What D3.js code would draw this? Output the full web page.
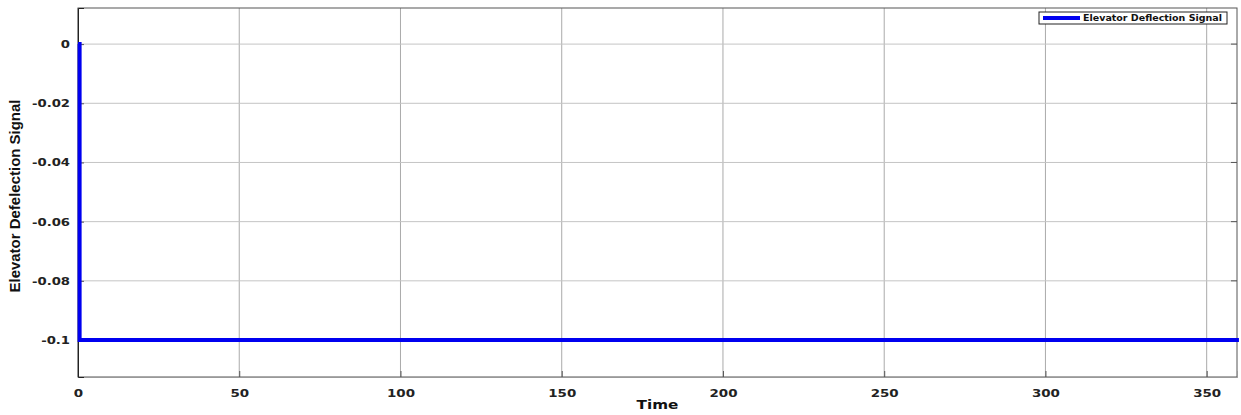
<!DOCTYPE html>
<html>
<head>
<meta charset="utf-8">
<script src="https://cdn.jsdelivr.net/npm/d3@7"></script>
<style>
  html, body { margin: 0; padding: 0; background: #fff; }
  svg { display: block; }
  .tick text { font-family: "DejaVu Sans", Verdana, sans-serif; font-weight: bold; fill: #222; }
</style>
</head>
<body>
<svg id="chart" width="1241" height="415"></svg>
<script>
// Step input: elevator deflection drops from 0 to -0.1 right after start
const time = [0, 0.5, 0.5, 360];
const deflection = [0, 0, -0.1, -0.1];
const xTicks = [0, 50, 100, 150, 200, 250, 300, 350];
const yTicks = [0, -0.02, -0.04, -0.06, -0.08, -0.1];
const yTickLabels = ["0", "-0.02", "-0.04", "-0.06", "-0.08", "-0.1"];
const seriesName = "Elevator Deflection Signal";
const xLabel = "Time";
const yLabel = "Elevator Defelection Signal";

const W = 1241, H = 415;
const m = { left: 78, right: 4, top: 8, bottom: 38 };
const svg = d3.select("#chart");

const x = d3.scaleLinear().domain([0, 359.4]).range([m.left, W - m.right]);
const y = d3.scaleLinear().domain([-0.1125, 0.0122]).range([H - m.bottom, m.top]);

const x0 = m.left, x1 = W - m.right, y0 = H - m.bottom, y1 = m.top;

// widen text horizontally about its anchor point (extended bold look)
function widen(sel, s, ax) {
  sel.attr("transform", `translate(${ax},0) scale(${s},1) translate(${-ax},0)`);
}

// grid
const grid = svg.append("g");
grid.selectAll("line.vg").data(xTicks).join("line")
  .attr("x1", d => x(d)).attr("x2", d => x(d))
  .attr("y1", y1).attr("y2", y0)
  .attr("stroke", "#aaa").attr("stroke-width", 1);
grid.selectAll("line.hg").data(yTicks).join("line")
  .attr("x1", x0).attr("x2", x1)
  .attr("y1", d => y(d)).attr("y2", d => y(d))
  .attr("stroke", "#c4c4c4").attr("stroke-width", 1);

// box
svg.append("rect").attr("x", x0).attr("y", y1)
  .attr("width", x1 - x0).attr("height", y0 - y1)
  .attr("fill", "none").attr("stroke", "#555").attr("stroke-width", 1);

// axes
const xPad = 12, yPad = 8;
const xAxis = d3.axisBottom(x).tickValues(xTicks).tickSize(-6).tickPadding(xPad);
svg.append("g").attr("transform", `translate(0,${y0})`).call(xAxis)
  .call(g => g.select(".domain").attr("stroke", "#999"))
  .call(g => g.selectAll(".tick line").attr("stroke", "#555"))
  .call(g => g.selectAll(".tick text").attr("font-size", 11).call(widen, 1.22, 0));

const yAxis = d3.axisLeft(y).tickValues(yTicks)
  .tickFormat((d, i) => yTickLabels[i]).tickSize(-6).tickPadding(yPad);
svg.append("g").attr("transform", `translate(${x0},0)`).call(yAxis)
  .call(g => g.select(".domain").attr("stroke", "#222"))
  .call(g => g.selectAll(".tick line").attr("stroke", "#555"))
  .call(g => g.selectAll(".tick text").attr("font-size", 11).call(widen, 1.2, -yPad));

// right-side inner ticks
svg.append("g").selectAll("line").data(yTicks).join("line")
  .attr("x1", x1 - 6).attr("x2", x1)
  .attr("y1", d => y(d)).attr("y2", d => y(d))
  .attr("stroke", "#555");

// signal
const pts = time.map((t, i) => [t, deflection[i]]);
svg.append("path").datum(pts)
  .attr("d", d3.line().x(d => x(d[0])).y(d => y(d[1])))
  .attr("fill", "none").attr("stroke", "#0000f0").attr("stroke-width", 4)
  .attr("stroke-linejoin", "miter");

// axis labels
const xc = (x0 + x1) / 2;
svg.append("text").attr("x", xc).attr("y", 409)
  .attr("text-anchor", "middle")
  .attr("font-family", "DejaVu Sans, sans-serif").attr("font-weight", "bold")
  .attr("font-size", 12.5).attr("fill", "#111").text(xLabel)
  .call(widen, 1.22, xc);

svg.append("text")
  .attr("transform", `translate(19.5,196) rotate(-90)`)
  .attr("text-anchor", "middle")
  .attr("font-family", "Liberation Sans, Arial, sans-serif")
  .attr("font-weight", "bold").attr("font-size", 14.5).attr("fill", "#111")
  .attr("textLength", 193).attr("lengthAdjust", "spacingAndGlyphs")
  .text(yLabel);

// legend
const lg = svg.append("g");
lg.append("rect").attr("x", 1039).attr("y", 12).attr("width", 188).attr("height", 12)
  .attr("fill", "#fff").attr("stroke", "#222").attr("stroke-width", 1);
lg.append("line").attr("x1", 1043).attr("x2", 1080).attr("y1", 18).attr("y2", 18)
  .attr("stroke", "#0000f0").attr("stroke-width", 4);
lg.append("text").attr("x", 1083).attr("y", 21.3)
  .attr("font-family", "DejaVu Sans, sans-serif").attr("font-weight", "bold")
  .attr("font-size", 8.3).attr("fill", "#111")
  .attr("textLength", 139).attr("lengthAdjust", "spacingAndGlyphs")
  .text(seriesName);
</script>
</body>
</html>
